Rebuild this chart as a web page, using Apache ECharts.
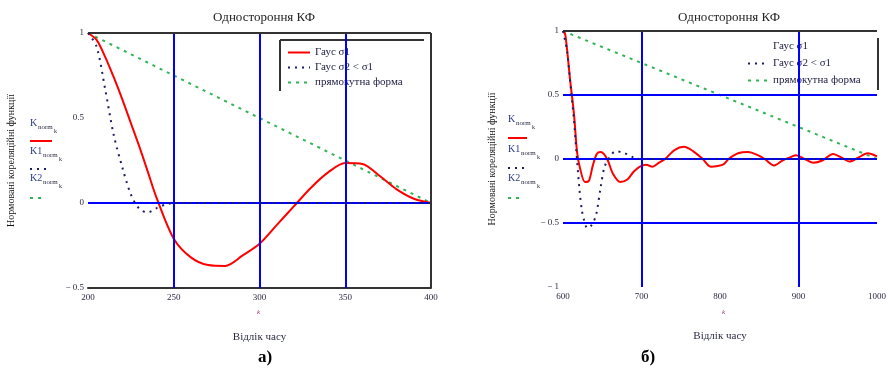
<!DOCTYPE html>
<html>
<head>
<meta charset="utf-8">
<title>Одностороння КФ</title>
<script src="https://cdn.jsdelivr.net/npm/echarts@6/dist/echarts.min.js"></script>
<style>
html, body { margin: 0; padding: 0; background: #fff; }
#main { width: 889px; height: 369px; }
</style>
</head>
<body>
<div id="main"></div>
<script>
// а) відліки 200..400
var redA_x = [200, 205, 210, 215, 220, 225, 230, 235, 240, 250, 260, 270, 280, 290, 300, 310, 320, 330, 340, 350, 360, 370, 380, 390, 400]
var redA_y = [1.0, 0.96, 0.86, 0.74, 0.61, 0.47, 0.33, 0.18, 0.03, -0.21, -0.32, -0.365, -0.37, -0.31, -0.24, -0.13, -0.02, 0.09, 0.18, 0.235, 0.23, 0.16, 0.08, 0.025, 0.0]
var navyA_x = [200, 205, 210, 215, 220, 225, 230, 235, 240, 245, 250, 300, 350, 400]
var navyA_y = [1.0, 0.92, 0.67, 0.40, 0.21, 0.05, -0.035, -0.055, -0.03, -0.01, 0, 0, 0, 0]
var greenA_x = [200, 400]
var greenA_y = [1, 0]

// б) відліки 600..1000
var redB_x = [600, 603, 609, 614, 618, 622, 628, 633, 638, 643, 648, 652, 657, 664, 673, 682, 690, 698, 706, 714, 722, 730, 742, 754, 766, 778, 788, 797, 805, 811, 823, 836, 848, 857, 869, 880, 890, 897, 908, 919, 931, 944, 955, 965, 976, 988, 1000]
var redB_y = [1.0, 0.97, 0.62, 0.35, 0.05, -0.08, -0.18, -0.17, -0.05, 0.04, 0.055, 0.04, -0.01, -0.12, -0.18, -0.16, -0.10, -0.06, -0.045, -0.06, -0.03, 0, 0.07, 0.095, 0.06, 0, -0.06, -0.055, -0.04, 0, 0.045, 0.055, 0.03, 0, -0.05, -0.01, 0.015, 0.03, 0, -0.03, -0.01, 0.04, 0.01, -0.02, 0.01, 0.045, 0.02]
var navyB_x = [600, 605, 610, 614, 617, 621, 624, 627, 631, 636, 642, 648, 653, 661, 667, 677, 689, 700, 800, 900, 1000]
var navyB_y = [1.0, 0.85, 0.55, 0.30, 0.06, -0.24, -0.40, -0.48, -0.54, -0.52, -0.44, -0.22, -0.06, 0.03, 0.06, 0.05, 0.015, 0, 0, 0, 0]
var greenB_x = [600, 1000]
var greenB_y = [1, 0]

// сітка (сині лінії)
var gridA_x = [250, 300, 350]
var gridA_y = [0]
var gridB_x = [700, 900]
var gridB_y = [-0.5, 0, 0.5]

var names = ['Гаус σ1', 'Гаус σ2 < σ1', 'прямокутна форма']
var titleText = 'Одностороння КФ'
var xName = 'Відлік часу'
var yName = 'Нормовані кореляційні функції'

var RED = '#ff0000'
var NAVY = '#1c1c64'
var GREEN = '#2fb552'
var BLUE = '#0000ff'
var SERIF = 'Liberation Serif'

function zip (xs, ys) {
  return xs.map(function (x, i) { return [x, ys[i]] })
}
function fmt (v) {
  return v < 0 ? '\u2212 ' + Math.abs(v) : String(v)
}

function guides (xs, ys, frame) {
  var d = []
  xs.forEach(function (x) { d.push({xAxis: x, lineStyle: {color: BLUE, width: 2, type: 'solid'}}) })
  ys.forEach(function (y) { d.push({yAxis: y, lineStyle: {color: BLUE, width: 2, type: 'solid'}}) })
  frame.forEach(function (f) { d.push(Object.assign({lineStyle: {color: '#333', width: 2, type: 'solid'}}, f)) })
  return d
}

function curves (i, rx, ry, nx, ny, gx, gy) {
  return [
    {name: names[0], type: 'line', xAxisIndex: i, yAxisIndex: i, data: zip(rx, ry), symbol: 'none', smooth: 0.3, z: 4,
      lineStyle: {color: RED, width: 2}, itemStyle: {color: RED}},
    {name: names[1], type: 'line', xAxisIndex: i, yAxisIndex: i, data: zip(nx, ny), symbol: 'none', smooth: 0.3, z: 5,
      lineStyle: {color: NAVY, width: 2, type: [2, 5]}, itemStyle: {color: NAVY}},
    {name: names[2], type: 'line', xAxisIndex: i, yAxisIndex: i, data: zip(gx, gy), symbol: 'none', z: 3,
      lineStyle: {color: GREEN, width: 2, type: [3, 5]}, itemStyle: {color: GREEN}}
  ]
}

function xAx (i, min, max, interval, showLine) {
  return {
    gridIndex: i, type: 'value', min: min, max: max, interval: interval,
    axisLine: {show: showLine, onZero: false, lineStyle: {color: '#333', width: 2}},
    axisTick: {show: false}, splitLine: {show: false},
    axisLabel: {fontSize: 9, fontFamily: SERIF, color: '#2a2a44', margin: 5, formatter: fmt},
    name: xName, nameLocation: 'middle', nameGap: 44,
    nameTextStyle: {fontSize: 11, fontFamily: SERIF, color: '#2a2a44'}
  }
}
function yAx (i, min, max, gap) {
  return {
    gridIndex: i, type: 'value', min: min, max: max, interval: 0.5,
    axisLine: {show: false}, axisTick: {show: false}, splitLine: {show: false},
    axisLabel: {fontSize: 9, fontFamily: SERIF, color: '#2a2a44', margin: 4, formatter: fmt},
    name: yName, nameLocation: 'middle', nameGap: gap,
    nameTextStyle: {fontSize: 10, fontFamily: SERIF, color: '#111'}
  }
}

// підписи кривих як у Mathcad
function traceLabels (x, tops, samples) {
  var out = []
  var mains = ['K', 'K1', 'K2']
  mains.forEach(function (m, i) {
    var w = m.length === 1 ? 8 : 13
    out.push({type: 'text', left: x, top: tops[i], style: {text: m, font: '10px ' + SERIF, fill: '#2a3a8a'}})
    out.push({type: 'text', left: x + w, top: tops[i] + 6, style: {text: 'norm', font: '7px ' + SERIF, fill: '#2a2a44'}})
    out.push({type: 'text', left: x + w + 16, top: tops[i] + 10, style: {text: 'k', font: '6px ' + SERIF, fill: '#2a2a44'}})
  })
  samples.forEach(function (s) {
    out.push({type: 'line', shape: {x1: x, y1: s.y, x2: x + s.w, y2: s.y},
      style: {stroke: s.c, lineWidth: 2, lineDash: s.dash || null}})
  })
  return out
}

var myChart = echarts.init(document.getElementById('main'))

var series = []
  .concat(curves(0, redA_x, redA_y, navyA_x, navyA_y, greenA_x, greenA_y))
  .concat(curves(1, redB_x, redB_y, navyB_x, navyB_y, greenB_x, greenB_y))

series.push({type: 'line', xAxisIndex: 0, yAxisIndex: 0, data: [], silent: true, z: 1,
  markLine: {symbol: 'none', silent: true, label: {show: false}, animation: false,
    data: guides(gridA_x, gridA_y, [{yAxis: 1}, {xAxis: 400}])}})
series.push({type: 'line', xAxisIndex: 1, yAxisIndex: 1, data: [], silent: true, z: 1,
  markLine: {symbol: 'none', silent: true, label: {show: false}, animation: false,
    data: guides(gridB_x, gridB_y, [{yAxis: 1}])}})

var legendText = {fontSize: 11, fontFamily: SERIF, color: '#1c1c40'}

myChart.setOption({
  animation: false,
  backgroundColor: '#fff',
  title: [
    {text: titleText, left: 259, top: 6, textAlign: 'center',
      textStyle: {fontSize: 13, fontWeight: 'normal', fontFamily: SERIF, color: '#222'}},
    {text: titleText, left: 724, top: 6, textAlign: 'center',
      textStyle: {fontSize: 13, fontWeight: 'normal', fontFamily: SERIF, color: '#222'}}
  ],
  legend: [
    {left: 282, top: 42, orient: 'vertical', itemWidth: 22, itemHeight: 12, itemGap: 4,
      itemStyle: {opacity: 0}, textStyle: legendText, selectedMode: false, data: names},
    {left: 742, top: 36, orient: 'vertical', itemWidth: 20, itemHeight: 12, itemGap: 6,
      itemStyle: {opacity: 0}, textStyle: legendText, selectedMode: false,
      data: [{name: names[0], lineStyle: {opacity: 0}}, names[1], names[2]]}
  ],
  grid: [
    {left: 88, top: 33, width: 343, height: 255},
    {left: 563, top: 31, width: 322, height: 256}
  ],
  xAxis: [xAx(0, 200, 400, 50, true), xAx(1, 600, 1000, 100, false)],
  yAxis: [yAx(0, -0.5, 1, 72), yAx(1, -1, 1, 66)],
  series: series,
  graphic: []
    .concat(traceLabels(30, [118, 146, 173], [
      {y: 141, w: 22, c: RED},
      {y: 169, w: 20, c: NAVY, dash: [2, 5]},
      {y: 198, w: 16, c: GREEN, dash: [3, 5]}
    ]))
    .concat(traceLabels(508, [114, 144, 173], [
      {y: 138, w: 19, c: RED},
      {y: 168, w: 18, c: NAVY, dash: [2, 5]},
      {y: 198, w: 16, c: GREEN, dash: [3, 5]}
    ]))
    .concat([
      // рамки легенд
      {type: 'line', shape: {x1: 280, y1: 40, x2: 424, y2: 40}, style: {stroke: '#333', lineWidth: 2}},
      {type: 'line', shape: {x1: 280, y1: 40, x2: 280, y2: 91}, style: {stroke: '#333', lineWidth: 2}},
      {type: 'line', shape: {x1: 878, y1: 38, x2: 878, y2: 90}, style: {stroke: '#333', lineWidth: 2}},
      {type: 'text', left: 257, top: 309, style: {text: 'k', font: 'italic 7px ' + SERIF, fill: '#a0307a'}},
      {type: 'text', left: 722, top: 309, style: {text: 'k', font: 'italic 7px ' + SERIF, fill: '#a0307a'}},
      {type: 'text', left: 258, top: 349, style: {text: 'а)', font: 'bold 17px ' + SERIF, fill: '#000', textAlign: 'center'}},
      {type: 'text', left: 641, top: 349, style: {text: 'б)', font: 'bold 17px ' + SERIF, fill: '#000', textAlign: 'center'}}
    ])
})
</script>
</body>
</html>
